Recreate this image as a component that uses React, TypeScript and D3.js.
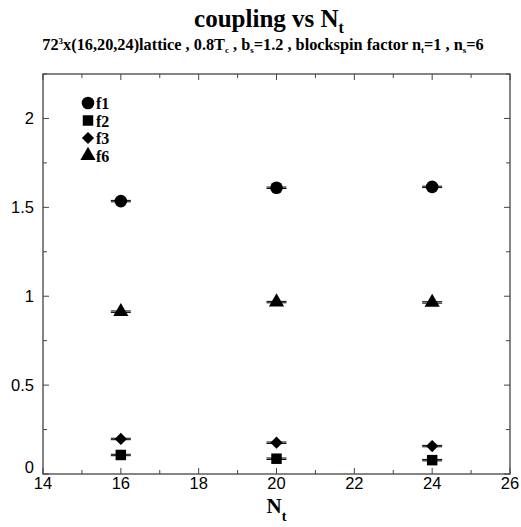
import React from "react";
import * as d3 from "d3";

const nt = [16, 20, 24];
const f1 = [1.535, 1.61, 1.615];
const f2 = [0.107, 0.086, 0.078];
const f3 = [0.197, 0.176, 0.157];
const f6 = [0.913, 0.967, 0.965];
const err = [0.004, 0.004, 0.004];
const xTicks = [14, 16, 18, 20, 22, 24, 26];
const yTicks = [0, 0.5, 1, 1.5, 2];
const legendNames = ["f1", "f2", "f3", "f6"];

const W = 521, H = 527;
const L = 43, R = 510, T = 74, B = 474;

export default function App() {
  const x = d3.scaleLinear().domain([14, 26]).range([L, R]);
  const y = d3.scaleLinear().domain([0, 2.25]).range([B, T]);
  const series = [
    { name: "f1", vals: f1, sym: d3.symbolCircle, size: 125, rot: 0 },
    { name: "f2", vals: f2, sym: d3.symbolSquare, size: 110, rot: 0 },
    { name: "f3", vals: f3, sym: d3.symbolSquare, size: 75, rot: 45 },
    { name: "f6", vals: f6, sym: d3.symbolTriangle, size: 100, rot: 0 },
  ];
  const xMinor = d3.range(14, 26.01, 1);
  const yMinor = d3.range(0, 2.26, 0.25);
  const axisCol = "#444";
  const sym = (s: any, size: number) => d3.symbol().type(s).size(size)()!;
  const sub = 3;
  return (
    <svg width={W} height={H} style={{ position: "absolute", left: 0, top: 0, background: "#fff" }}>
      <text x={269} y={27} textAnchor="middle" fontFamily="Liberation Serif" fontWeight="bold" fontSize={25}>
        coupling vs N<tspan dy={6} fontSize={16}>t</tspan>
      </text>
      <text x={263} y={50} textAnchor="middle" fontFamily="Liberation Serif" fontWeight="bold" fontSize={16.3}>
        72<tspan dy={-6} fontSize={9}>3</tspan><tspan dy={6}>x(16,20,24)lattice , 0.8T</tspan>
        <tspan dy={sub} fontSize={9}>c</tspan><tspan dy={-sub}> , b</tspan>
        <tspan dy={sub} fontSize={9}>s</tspan><tspan dy={-sub}>=1.2 , blockspin factor n</tspan>
        <tspan dy={sub} fontSize={9}>t</tspan><tspan dy={-sub}>=1 , n</tspan>
        <tspan dy={sub} fontSize={9}>s</tspan><tspan dy={-sub}>=6</tspan>
      </text>
      <rect x={L} y={T} width={R - L} height={B - T} fill="none" stroke={axisCol} strokeWidth={1.3} />
      {xMinor.map((v) => {
        const major = v % 2 === 0;
        const len = major ? 6 : 4;
        return (
          <g key={"xt" + v}>
            <line x1={x(v)} x2={x(v)} y1={B} y2={B - len} stroke={axisCol} />
            <line x1={x(v)} x2={x(v)} y1={T} y2={T + len} stroke={axisCol} />
          </g>
        );
      })}
      {yMinor.map((v, i) => {
        const major = i % 2 === 0;
        const len = major ? 6 : 4;
        return (
          <g key={"yt" + i}>
            <line x1={L} x2={L + len} y1={y(v)} y2={y(v)} stroke={axisCol} />
            <line x1={R} x2={R - len} y1={y(v)} y2={y(v)} stroke={axisCol} />
          </g>
        );
      })}
      {xTicks.map((v) => (
        <text key={"xl" + v} x={x(v)} y={B + 15} textAnchor="middle" fontFamily="Liberation Sans" fontSize={16.5}>{v}</text>
      ))}
      {yTicks.map((v) => (
        <text key={"yl" + v} x={L - 9} y={y(v) + (v === 0 ? -1 : 6)} textAnchor="end" fontFamily="Liberation Sans" fontSize={16.5}>{v}</text>
      ))}
      <text x={x(20)} y={513} textAnchor="middle" fontFamily="Liberation Serif" fontWeight="bold" fontSize={21}>
        N<tspan dy={8} fontSize={14}>t</tspan>
      </text>
      {series.map((s) => (
        <g key={s.name}>
          {s.vals.map((v, i) => (
            <g key={i}>
              <line x1={x(nt[i]) - 10} x2={x(nt[i]) + 10} y1={y(v + err[i])} y2={y(v + err[i])} stroke="#000" strokeWidth={1} />
              <line x1={x(nt[i]) - 10} x2={x(nt[i]) + 10} y1={y(v - err[i])} y2={y(v - err[i])} stroke="#000" strokeWidth={1} />
              <path d={sym(s.sym, s.size)} transform={`translate(${x(nt[i])},${y(v)}) rotate(${s.rot})`} fill="#000" />
            </g>
          ))}
        </g>
      ))}
      {legendNames.map((n, i) => {
        const s = series[i];
        const ly = 103 + i * 17.5;
        return (
          <g key={"lg" + n}>
            <path d={sym(s.sym, s.size)} transform={`translate(88,${ly}) rotate(${s.rot})`} fill="#000" />
            <text x={96} y={ly + 6} fontFamily="Liberation Serif" fontWeight="bold" fontSize={16}>{n}</text>
          </g>
        );
      })}
    </svg>
  );
}
